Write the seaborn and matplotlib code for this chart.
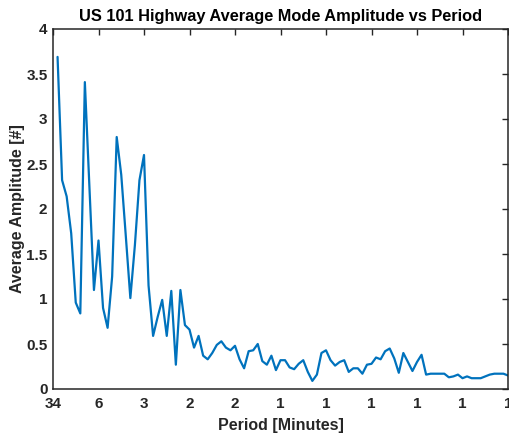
import matplotlib
matplotlib.use("Agg")
import matplotlib.pyplot as plt
import seaborn as sns
import pandas as pd
import numpy as np

# Mode index (frequency bin) and the average modal amplitude at each bin
mode_index = list(range(1, 101))
avg_amplitude = [
    3.69, 2.32, 2.14, 1.73, 0.96, 0.84, 3.41, 2.25, 1.10, 1.65,
    0.90, 0.68, 1.25, 2.80, 2.38, 1.70, 1.01, 1.60, 2.32, 2.60,
    1.15, 0.59, 0.80, 0.99, 0.59, 1.09, 0.27, 1.10, 0.71, 0.66,
    0.46, 0.59, 0.37, 0.33, 0.40, 0.49, 0.53, 0.46, 0.43, 0.48,
    0.33, 0.23, 0.42, 0.43, 0.50, 0.31, 0.27, 0.37, 0.21, 0.32,
    0.32, 0.24, 0.22, 0.28, 0.32, 0.19, 0.09, 0.16, 0.40, 0.43,
    0.32, 0.26, 0.30, 0.32, 0.19, 0.23, 0.23, 0.17, 0.27, 0.28,
    0.35, 0.33, 0.42, 0.45, 0.34, 0.18, 0.40, 0.30, 0.20, 0.30,
    0.38, 0.16, 0.17, 0.17, 0.17, 0.17, 0.13, 0.14, 0.16, 0.12,
    0.14, 0.12, 0.12, 0.12, 0.14, 0.16, 0.17, 0.17, 0.17, 0.15,
]

# Period labels (minutes) shown at every tenth mode
tick_positions = [0, 10, 20, 30, 40, 50, 60, 70, 80, 90, 100]
period_labels = ["34", "6", "3", "2", "2", "1", "1", "1", "1", "1", "1"]
y_ticks = [0, 0.5, 1, 1.5, 2, 2.5, 3, 3.5, 4]
y_tick_labels = ["0", "0.5", "1", "1.5", "2", "2.5", "3", "3.5", "4"]

df = pd.DataFrame({"mode": mode_index, "amplitude": avg_amplitude})

sns.set_theme(style="white")
plt.rcParams["font.family"] = ["Liberation Sans", "DejaVu Sans"]
plt.rcParams["font.weight"] = "bold"

fig = plt.figure(figsize=(5.09, 4.33), dpi=100)
ax = fig.add_axes([53 / 509, 1 - 389 / 433, 455 / 509, 360 / 433])

sns.lineplot(data=df, x="mode", y="amplitude", ax=ax, color="#0072BD",
             linewidth=1.6)

ax.set_xlim(0, 100)
ax.set_ylim(0, 4)
ax.set_xticks(tick_positions)
ax.set_xticklabels(period_labels)
ax.set_yticks(y_ticks)
ax.set_yticklabels(y_tick_labels)

edge = "#262626"
for side in ["left", "right", "top", "bottom"]:
    ax.spines[side].set_visible(True)
    ax.spines[side].set_color(edge)
    ax.spines[side].set_linewidth(1.1)

ax.tick_params(axis="both", which="major", direction="in", length=4,
               width=1.0, color=edge, labelsize=11, labelcolor=edge,
               top=True, right=True)
ax.tick_params(axis="x", pad=5.5)
ax.tick_params(axis="y", pad=4)
for lab in ax.get_xticklabels() + ax.get_yticklabels():
    lab.set_fontweight("bold")

ax.set_xlabel("Period [Minutes]", fontsize=11.5, fontweight="bold",
              color=edge, labelpad=5)
ax.set_ylabel("Average Amplitude [#]", fontsize=11.5, fontweight="bold",
              color=edge, labelpad=0.5)
ax.set_title("US 101 Highway Average Mode Amplitude vs Period",
             fontsize=11.8, fontweight="bold", color="black", pad=6)

fig.savefig("out.png", dpi=100)
